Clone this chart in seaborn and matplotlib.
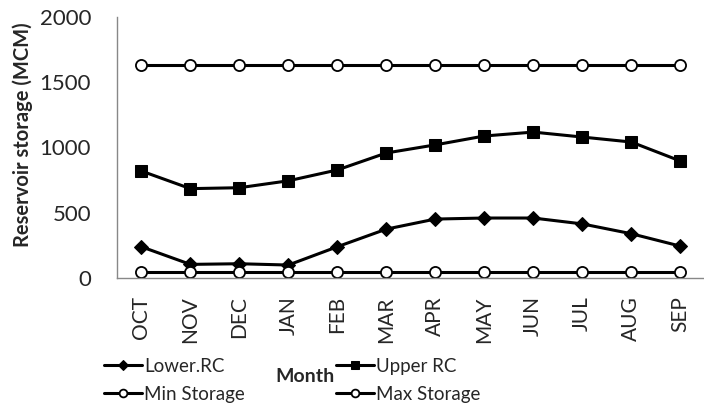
import matplotlib
matplotlib.use('Agg')
import matplotlib.pyplot as plt
import seaborn as sns

months = ["OCT", "NOV", "DEC", "JAN", "FEB", "MAR", "APR", "MAY", "JUN", "JUL", "AUG", "SEP"]
lower_rc = [240, 105, 110, 100, 240, 375, 452, 460, 460, 415, 340, 245]
upper_rc = [820, 685, 692, 745, 828, 958, 1020, 1088, 1118, 1080, 1042, 897]
min_storage = [50] * 12
max_storage = [1630] * 12

sns.set_style("white")
plt.rcParams['font.family'] = ['Lato', 'DejaVu Sans']

fig = plt.figure(figsize=(7.04, 4.12), dpi=100)
ax = fig.add_axes([0.166, 0.325, 0.835, 0.634])

x = list(range(len(months)))
lw = 2.2
sns.lineplot(x=x, y=lower_rc, ax=ax, color="black", lw=lw, marker="D",
             markersize=7, markerfacecolor="black", markeredgecolor="black", label="Lower.RC")
sns.lineplot(x=x, y=upper_rc, ax=ax, color="black", lw=lw, marker="s",
             markersize=8.5, markerfacecolor="black", markeredgecolor="black", label="Upper RC")
sns.lineplot(x=x, y=min_storage, ax=ax, color="black", lw=lw, marker="o",
             markersize=8, markerfacecolor="white", markeredgecolor="black",
             markeredgewidth=1.3, label="Min Storage")
sns.lineplot(x=x, y=max_storage, ax=ax, color="black", lw=lw, marker="o",
             markersize=8, markerfacecolor="white", markeredgecolor="black",
             markeredgewidth=1.3, label="Max Storage")

ax.set_xlim(-0.5, 11.5)
ax.set_ylim(0, 2000)
ax.set_yticks([0, 500, 1000, 1500, 2000])
ax.set_xticks(x)
ax.set_xticklabels(months, rotation=90, fontsize=15)
ax.set_xticks([i - 0.5 for i in range(13)], minor=True)
ax.tick_params(axis='x', which='major', length=0, pad=13)
ax.tick_params(axis='x', which='minor', length=6, color="#888888", width=1)
ax.tick_params(axis='y', length=6.5, color="#888888", width=1, labelsize=16, pad=12)

sns.despine(ax=ax)
for s in ["left", "bottom"]:
    ax.spines[s].set_color("#888888")
    ax.spines[s].set_linewidth(1)

ax.set_ylabel("Reservoir storage (MCM)", fontsize=14.5, fontweight="bold")
ax.yaxis.set_label_coords(-0.142, 0.55)
ax.set_xlabel("Month", fontsize=14, fontweight="bold", va="center")
ax.xaxis.set_label_coords(0.32, -0.375)

handles, labels = ax.get_legend_handles_labels()
ax.get_legend().remove()
order = [0, 2, 1, 3]
fig.legend([handles[i] for i in order], [labels[i] for i in order], ncol=2,
           loc="upper left", bbox_to_anchor=(0.135, 0.155),
           frameon=False, fontsize=13.5, handlelength=2.0, handletextpad=0.1,
           columnspacing=4.9, labelspacing=0.6, markerscale=0.7, borderpad=0)

fig.savefig("out.png", dpi=100)
